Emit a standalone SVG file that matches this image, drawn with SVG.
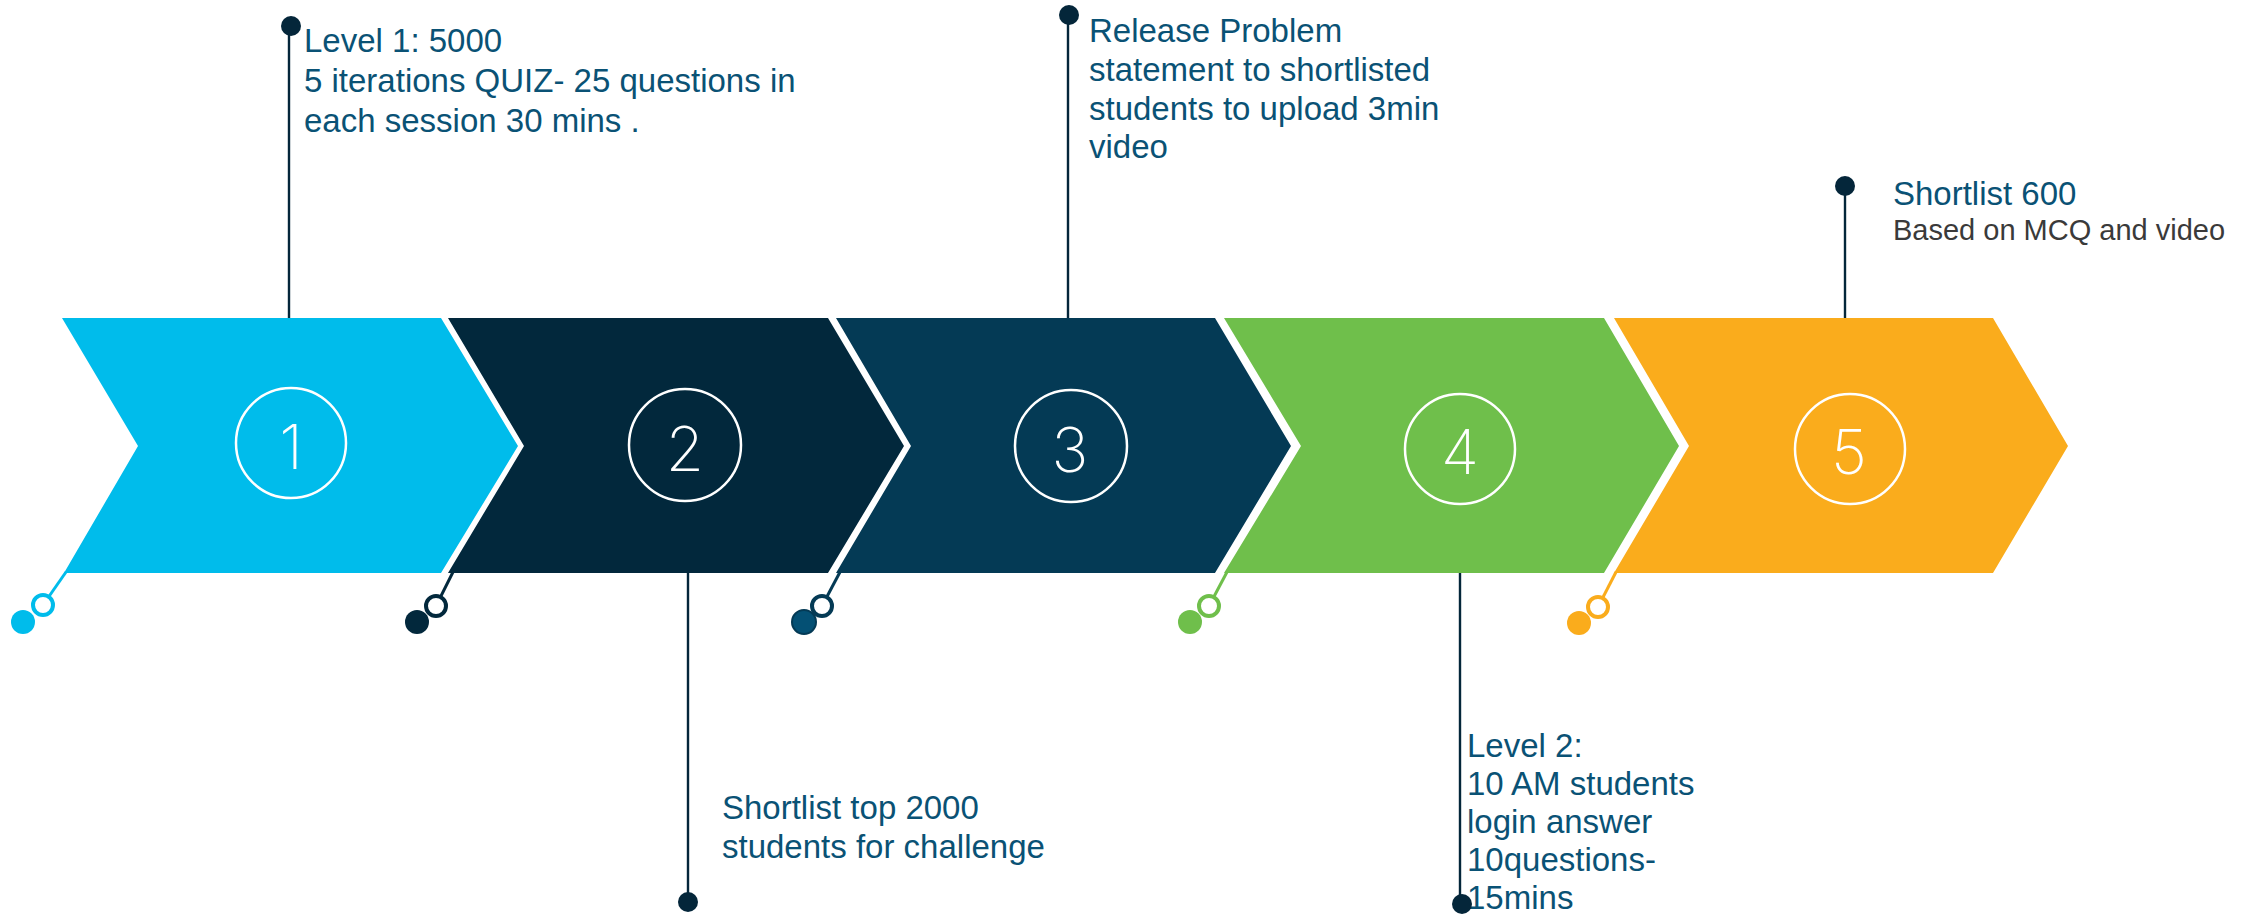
<svg xmlns="http://www.w3.org/2000/svg" width="2256" height="914" viewBox="0 0 2256 914">
<style>
.lbl{font-family:"Liberation Sans",Arial,sans-serif;font-size:33px;fill:#0A5275}
.sub{font-family:"Liberation Sans",Arial,sans-serif;font-size:29px;fill:#3A3A3A}
.num{font-family:Inter,"Open Sans","Liberation Sans",sans-serif;font-weight:200;font-size:62px;fill:#FFFFFF;text-anchor:middle}
.ring{fill:none;stroke:#FFFFFF;stroke-width:2.5}
.wl{stroke:#FFFFFF;stroke-width:2.2;fill:none}
.dl{stroke:#04263A;stroke-width:2.4;fill:none}
.dd{fill:#04263A}
</style>
<rect width="2256" height="914" fill="#FFFFFF"/>

<g id="connectors">
  <line class="dl" x1="289" y1="26" x2="289" y2="318"/>
  <line class="wl" x1="289.5" y1="321" x2="288.8" y2="384"/>
  <line class="wl" x1="688.5" y1="505" x2="688" y2="567"/>
  <line class="dl" x1="688" y1="573" x2="688" y2="901"/>
  <line class="dl" x1="1068" y1="15" x2="1068" y2="318"/>
  <line class="wl" x1="1068" y1="321" x2="1068" y2="389"/>
  <line class="wl" x1="1460" y1="509" x2="1460" y2="570"/>
  <line class="dl" x1="1460" y1="573" x2="1460" y2="903"/>
  <line class="dl" x1="1845" y1="186" x2="1845" y2="318"/>
  <line class="wl" x1="1845.7" y1="319" x2="1849" y2="391"/>
</g>

<g id="step1">
  <polygon points="62,318 441,318 518,446 441,573 64,573 138,446" fill="#00BCEB"/>
  <circle class="ring" cx="291" cy="443" r="55"/>
  <text class="num" x="291" y="469">1</text>
  <line x1="66" y1="572" x2="43" y2="605" stroke="#00BCEB" stroke-width="3"/>
  <circle cx="23" cy="622" r="12" fill="#00BCEB"/>
  <circle cx="43" cy="605" r="10" fill="#FFFFFF" stroke="#00BCEB" stroke-width="4"/>
</g>

<g id="step2">
  <polygon points="448,318 828,318 904,446 828,573 448,573 524,446" fill="#02283C"/>
  <circle class="ring" cx="685" cy="445" r="56"/>
  <text class="num" x="685" y="471">2</text>
  <line x1="453" y1="572" x2="436" y2="606" stroke="#02283C" stroke-width="3"/>
  <circle cx="417" cy="622" r="12" fill="#02283C"/>
  <circle cx="436" cy="606" r="10" fill="#FFFFFF" stroke="#02283C" stroke-width="4"/>
</g>

<g id="step3">
  <polygon points="836,318 1215,318 1291,446 1215,573 836,573 911,446" fill="#043A55"/>
  <circle class="ring" cx="1071" cy="446" r="56"/>
  <text class="num" x="1070" y="472">3</text>
  <line x1="840" y1="572" x2="822" y2="606" stroke="#043A55" stroke-width="3"/>
  <circle cx="804" cy="622" r="12" fill="#045074" stroke="#043A55" stroke-width="2"/>
  <circle cx="822" cy="606" r="10" fill="#FFFFFF" stroke="#043A55" stroke-width="4"/>
</g>

<g id="step4">
  <polygon points="1224,318 1604,318 1679,446 1604,573 1224,573 1301,446" fill="#6FBF4B"/>
  <circle class="ring" cx="1460" cy="449" r="55"/>
  <text class="num" x="1460" y="474">4</text>
  <line x1="1227" y1="572" x2="1209" y2="606" stroke="#6FBF4B" stroke-width="3"/>
  <circle cx="1190" cy="622" r="12" fill="#6FBF4B"/>
  <circle cx="1209" cy="606" r="10" fill="#FFFFFF" stroke="#6FBF4B" stroke-width="4"/>
</g>

<g id="step5">
  <polygon points="1614,318 1993,318 2068,446 1993,573 1614,573 1689,446" fill="#FAAC1C"/>
  <circle class="ring" cx="1850" cy="449" r="55"/>
  <text class="num" x="1849" y="474">5</text>
  <line x1="1616" y1="572" x2="1598" y2="607" stroke="#FAAC1C" stroke-width="3"/>
  <circle cx="1579" cy="623" r="12" fill="#FAAC1C"/>
  <circle cx="1598" cy="607" r="10" fill="#FFFFFF" stroke="#FAAC1C" stroke-width="4"/>
</g>

<g id="label1">
  <circle class="dd" cx="291" cy="26" r="10"/>
  <text class="lbl" x="304" y="52">Level 1: 5000</text>
  <text class="lbl" x="304" y="92">5 iterations QUIZ- 25 questions in</text>
  <text class="lbl" x="304" y="132">each session 30 mins .</text>
</g>

<g id="label2">
  <text class="lbl" x="722" y="819">Shortlist top 2000</text>
  <text class="lbl" x="722" y="858">students for challenge</text>
  <circle class="dd" cx="688" cy="902" r="10"/>
</g>

<g id="label3">
  <circle class="dd" cx="1069" cy="15" r="10"/>
  <text class="lbl" x="1089" y="42">Release Problem</text>
  <text class="lbl" x="1089" y="81">statement to shortlisted</text>
  <text class="lbl" x="1089" y="120">students to upload 3min</text>
  <text class="lbl" x="1089" y="158">video</text>
</g>

<g id="label4">
  <text class="lbl" x="1467" y="757">Level 2:</text>
  <text class="lbl" x="1467" y="795">10 AM students</text>
  <text class="lbl" x="1467" y="833">login answer</text>
  <text class="lbl" x="1467" y="871">10questions-</text>
  <text class="lbl" x="1467" y="909">15mins</text>
  <circle class="dd" cx="1462" cy="904" r="10"/>
</g>

<g id="label5">
  <circle class="dd" cx="1845" cy="186" r="10"/>
  <text class="lbl" x="1893" y="205">Shortlist 600</text>
  <text class="sub" x="1893" y="240">Based on MCQ and video</text>
</g>
</svg>
